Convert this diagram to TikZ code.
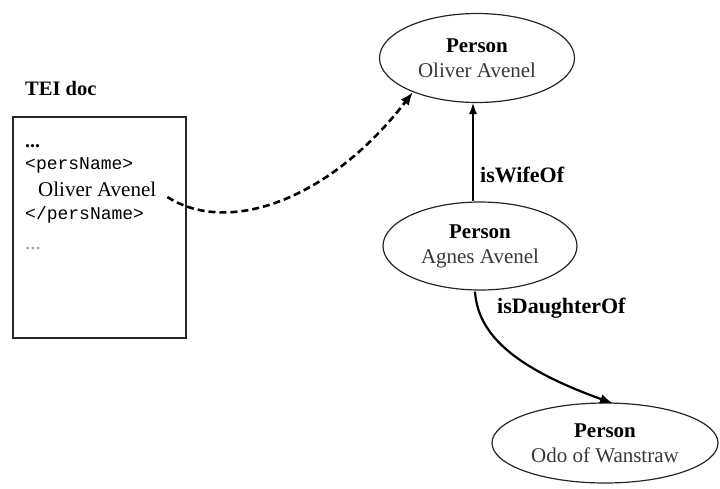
\documentclass[tikz,border=0pt]{standalone}
\usepackage{fontspec}
\setmainfont{Liberation Serif}
\setmonofont{Liberation Mono}
\usetikzlibrary{shapes.geometric,arrows.meta,calc}
\definecolor{namegray}{gray}{0.22}
\definecolor{dotgray}{gray}{0.6}

\begin{document}
\begin{tikzpicture}[x=1pt,y=-1pt,
  person/.style={ellipse, draw=black!85, line width=1.2pt, inner sep=0pt,
                 align=center, font=\fontsize{21}{25}\selectfont},
  docline/.style={anchor=base west, inner sep=0pt, font=\fontsize{21}{24}\selectfont},
  tagline/.style={anchor=base west, inner sep=0pt, font=\ttfamily\fontsize{18}{22}\selectfont},
  relname/.style={anchor=base west, inner sep=0pt, font=\bfseries\fontsize{22}{24}\selectfont},
  plainrel/.style={draw=black, line width=1.1pt, -{Latex[length=11pt,width=8pt]}},
  strongrel/.style={draw=black, line width=2.2pt, -{Latex[length=13pt,width=10pt]}},
  linkrel/.style={draw=black, line width=2.6pt, dash pattern=on 7pt off 4pt,
                  -{Latex[length=13pt,width=10pt]}}]
\useasboundingbox (0,0) rectangle (720,488);

% persons
\node[person, minimum width=195pt, minimum height=89pt] (oliver) at (477,58)
  {\textbf{Person}\\\textcolor{namegray}{Oliver Avenel}};
\node[person, minimum width=194pt, minimum height=88pt] (agnes) at (480,246)
  {\textbf{Person}\\\textcolor{namegray}{Agnes Avenel}};
\node[person, minimum width=226pt, minimum height=80pt] (odo) at (605,443)
  {\textbf{Person}\\\textcolor{namegray}{Odo of Wanstraw}};

% TEI document
\node[relname, font=\bfseries\fontsize{20.5}{24}\selectfont] (title) at (25,95) {TEI doc};
\node[draw=black!85, line width=1.2pt, minimum width=173pt, minimum height=221pt,
      inner sep=0pt] (tei) at (99.5,227.5) {};
\node[docline, font=\bfseries\fontsize{20}{24}\selectfont] (dotsa) at (25,147) {...};
\node[tagline] (open) at (25,169) {<persName>};
\node[docline] (oa) at (38,196) {Oliver Avenel};
\node[tagline] (close) at (25,219) {</persName>};
\node[docline, text=dotgray] (dotsb) at (25,249) {...};

% relations
\coordinate (wifex) at (473,0);
\draw[plainrel] (agnes.north -| wifex) -- (oliver.south -| wifex);
\node[relname] (wifelbl) at (480,182) {isWifeOf};

\draw[strongrel] ($(agnes.south)+(-5,1)$) .. controls (478,335) and (515,368)
  .. ($(odo.north)+(8,1)$);
\node[relname] (daughterlbl) at (497,313) {isDaughterOf};

% link from the document to the person
\draw[linkrel] ($(oa.base east)+(11,1)$) .. controls (228,236) and (330,200)
  .. (oliver.208);
\end{tikzpicture}
\end{document}
